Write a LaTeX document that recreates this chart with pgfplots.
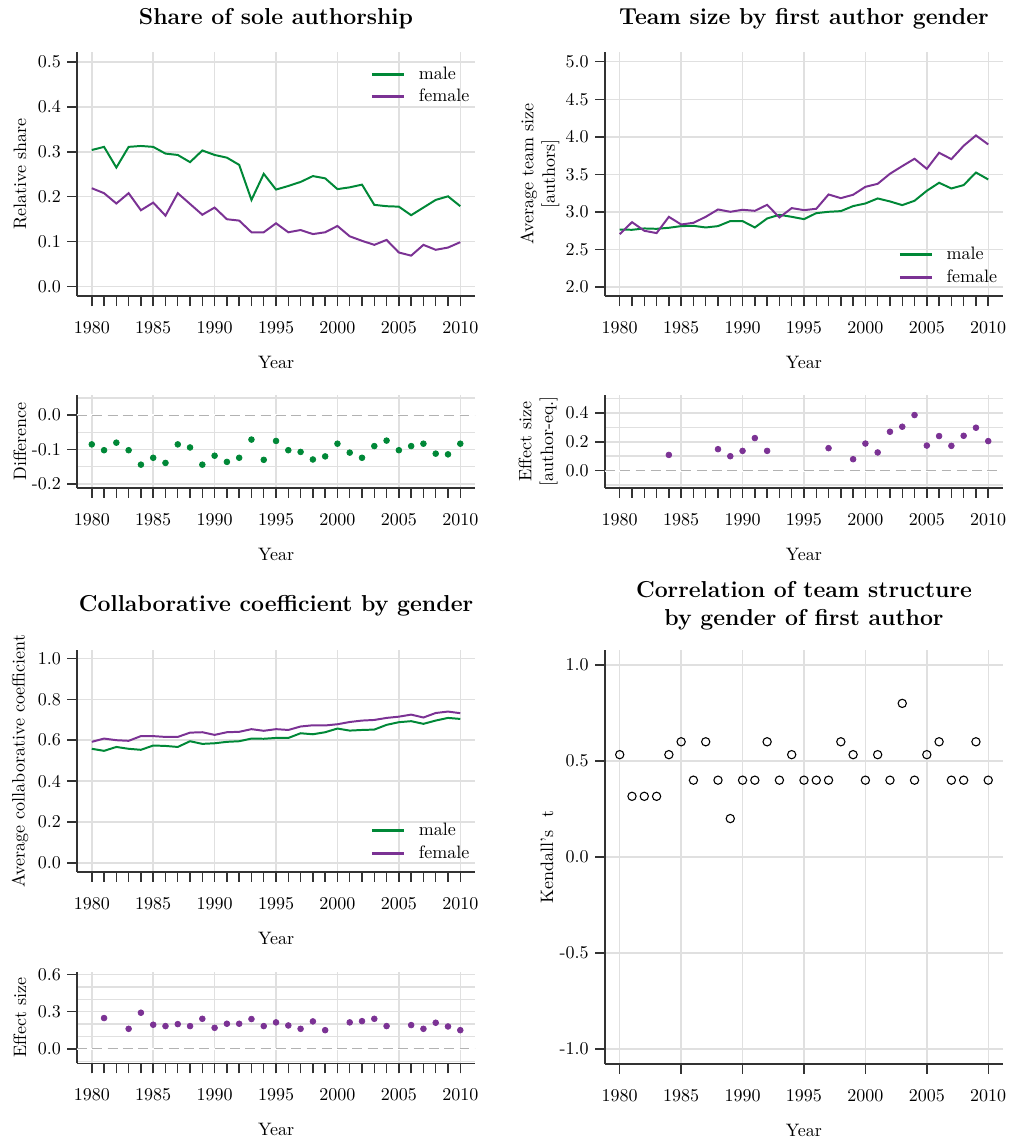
\documentclass[border=0pt]{standalone}
\usepackage{pgfplots}
\usepackage{pgfplotstable}
\pgfplotsset{compat=1.18}

\definecolor{male}{HTML}{008837}
\definecolor{female}{HTML}{7B3294}

% share of single-author papers
\pgfplotstableread{
year male female
1980 0.304 0.219
1981 0.311 0.208
1982 0.265 0.185
1983 0.311 0.208
1984 0.313 0.170
1985 0.311 0.187
1986 0.296 0.158
1987 0.293 0.208
1988 0.277 0.184
1989 0.303 0.160
1990 0.293 0.176
1991 0.287 0.150
1992 0.271 0.147
1993 0.193 0.121
1994 0.251 0.121
1995 0.216 0.141
1996 0.224 0.121
1997 0.233 0.126
1998 0.246 0.117
1999 0.241 0.121
2000 0.217 0.135
2001 0.221 0.112
2002 0.227 0.102
2003 0.182 0.093
2004 0.179 0.104
2005 0.178 0.076
2006 0.159 0.069
2007 0.176 0.093
2008 0.193 0.082
2009 0.201 0.087
2010 0.179 0.099
}\soleshare

% female minus male share
\pgfplotstableread{
year diff
1980 -0.085
1981 -0.102
1982 -0.080
1983 -0.102
1984 -0.144
1985 -0.124
1986 -0.139
1987 -0.085
1988 -0.094
1989 -0.144
1990 -0.118
1991 -0.136
1992 -0.124
1993 -0.071
1994 -0.130
1995 -0.075
1996 -0.102
1997 -0.107
1998 -0.129
1999 -0.120
2000 -0.083
2001 -0.109
2002 -0.124
2003 -0.090
2004 -0.074
2005 -0.102
2006 -0.090
2007 -0.083
2008 -0.112
2009 -0.114
2010 -0.083
}\solediff

% average team size
\pgfplotstableread{
year male female
1980 2.764 2.702
1981 2.760 2.862
1982 2.778 2.747
1983 2.773 2.716
1984 2.787 2.933
1985 2.809 2.831
1986 2.813 2.853
1987 2.791 2.933
1988 2.809 3.031
1989 2.876 3.000
1990 2.876 3.027
1991 2.791 3.013
1992 2.911 3.093
1993 2.960 2.924
1994 2.933 3.049
1995 2.902 3.022
1996 2.982 3.040
1997 3.000 3.231
1998 3.009 3.182
1999 3.076 3.227
2000 3.111 3.333
2001 3.178 3.373
2002 3.138 3.507
2003 3.089 3.609
2004 3.147 3.707
2005 3.280 3.573
2006 3.387 3.787
2007 3.311 3.702
2008 3.356 3.880
2009 3.524 4.018
2010 3.431 3.898
}\teamsize

% effect size of team size (significant years only)
\pgfplotstableread{
year eff
1984 0.109
1988 0.149
1989 0.100
1990 0.137
1991 0.226
1992 0.137
1997 0.156
1999 0.079
2000 0.188
2001 0.126
2002 0.270
2003 0.305
2004 0.386
2005 0.174
2006 0.240
2007 0.172
2008 0.242
2009 0.298
2010 0.205
}\teameff

% average collaborative coefficient
\pgfplotstableread{
year male female
1980 0.558 0.592
1981 0.548 0.608
1982 0.567 0.600
1983 0.558 0.597
1984 0.553 0.620
1985 0.574 0.620
1986 0.572 0.616
1987 0.567 0.616
1988 0.595 0.637
1989 0.582 0.639
1990 0.585 0.626
1991 0.592 0.639
1992 0.595 0.641
1993 0.608 0.654
1994 0.607 0.646
1995 0.611 0.654
1996 0.611 0.650
1997 0.634 0.667
1998 0.629 0.673
1999 0.639 0.672
2000 0.657 0.678
2001 0.647 0.689
2002 0.650 0.696
2003 0.652 0.699
2004 0.675 0.709
2005 0.688 0.715
2006 0.693 0.725
2007 0.680 0.711
2008 0.696 0.733
2009 0.709 0.740
2010 0.704 0.732
}\collab

% effect size of collaborative coefficient
\pgfplotstableread{
year eff
1981 0.249
1983 0.162
1984 0.292
1985 0.195
1986 0.184
1987 0.200
1988 0.184
1989 0.243
1990 0.170
1991 0.203
1992 0.203
1993 0.241
1994 0.184
1995 0.214
1996 0.189
1997 0.162
1998 0.222
1999 0.151
2001 0.214
2002 0.224
2003 0.243
2004 0.184
2006 0.192
2007 0.162
2008 0.211
2009 0.181
2010 0.151
}\collabeff

% Kendall's tau of team structure
\pgfplotstableread{
year tau
1980 0.533
1981 0.316
1982 0.316
1983 0.316
1984 0.533
1985 0.600
1986 0.400
1987 0.600
1988 0.400
1989 0.200
1990 0.400
1991 0.400
1992 0.600
1993 0.400
1994 0.533
1995 0.400
1996 0.400
1997 0.400
1998 0.600
1999 0.533
2000 0.400
2001 0.533
2002 0.400
2003 0.800
2004 0.400
2005 0.533
2006 0.600
2007 0.400
2008 0.400
2009 0.600
2010 0.400
}\kendall

\pgfplotsset{
  panel/.style={
    scale only axis, width=221.1pt,
    axis x line*=bottom, axis y line*=left,
    axis line style={black!80, line width=0.8pt},
    tick align=outside, major tick length=5.5pt, minor tick length=0pt,
    tick style={black!80, line width=0.8pt},
    xmin=1978.8, xmax=2011.2,
    xtick={1980,1985,...,2010},
    xticklabels={1980,1985,1990,1995,2000,2005,2010},
    xmajorgrids=true, ymajorgrids=true,
    major grid style={black!12, line width=0.8pt},
    minor grid style={black!12, line width=0.8pt},
    xticklabel style={yshift=-5pt},
    xlabel={Year},
    xlabel style={at={(axis description cs:0.5,0)}, anchor=center, yshift=-36.7pt},
    title style={font=\fontsize{12.8}{15.3}\selectfont\bfseries, at={(axis description cs:0.5,1)}, anchor=center, align=center, yshift=12.5pt},
    legend style={draw=none, fill=none, font=\normalsize, legend cell align=left},
    legend image code/.code={\draw[#1, line width=1.6pt] (0pt,0pt) -- (18pt,0pt); \path[draw=none] (0pt,0pt) -- (24pt,0pt);},
  },
  yearly/.style={extra x ticks={1980,...,2010}, extra x tick labels={}, extra x tick style={grid=none}},
  minorgrid/.style={minor ytick={#1}, yminorgrids=true},
  leftlab/.style={ylabel style={at={(axis description cs:#1,0.5)}, anchor=center, align=center}},
  trend/.style={line width=1.1pt},
  dot/.style={only marks, mark=*, mark size=1.6pt},
}

\begin{document}
\begin{tikzpicture}
\useasboundingbox (0pt,0pt) rectangle (564.44pt,-634.44pt);

% share of sole authorship
\begin{axis}[panel, yearly, at={(42.8pt,-28.9pt)}, anchor=north west,
  height=135.6pt, ymin=-0.021, ymax=0.522,
  ytick={0,0.1,...,0.5}, yticklabels={0.0,0.1,0.2,0.3,0.4,0.5},
  title={Share of sole authorship}, ylabel={Relative share}, leftlab=-0.1434,
  legend style={at={(1,1)}, anchor=north east, yshift=-4pt, xshift=2pt}]
\addplot[trend, male] table[x=year, y=male] {\soleshare};
\addlegendentry{male}
\addplot[trend, female] table[x=year, y=female] {\soleshare};
\addlegendentry{female}
\end{axis}

% difference of shares
\begin{axis}[panel, yearly, at={(42.8pt,-219.4pt)}, anchor=north west,
  height=51.7pt, ymin=-0.212, ymax=0.059,
  ytick={-0.2,-0.1,0}, yticklabels={-0.2,-0.1,0.0}, minorgrid={-0.15,-0.05,0.05},
  ylabel={Difference}, leftlab=-0.1434]
\addplot[white, line width=1.2pt] coordinates {(1978.8,0) (2011.2,0)};
\addplot[black!30, line width=0.6pt, dash pattern=on 5.5pt off 3pt] coordinates {(1978.8,0) (2011.2,0)};
\addplot[dot, male] table[x=year, y=diff] {\solediff};
\end{axis}

% team size
\begin{axis}[panel, yearly, at={(336.1pt,-28.9pt)}, anchor=north west,
  height=135.6pt, ymin=1.876, ymax=5.13,
  ytick={2,2.5,...,5}, yticklabels={2.0,2.5,3.0,3.5,4.0,4.5,5.0},
  title={Team size by first author gender}, ylabel={Average team size\\\mbox{[authors]}}, leftlab=-0.1633,
  legend style={at={(1,0)}, anchor=south east, yshift=2pt, xshift=2pt}]
\addplot[trend, male] table[x=year, y=male] {\teamsize};
\addlegendentry{male}
\addplot[trend, female] table[x=year, y=female] {\teamsize};
\addlegendentry{female}
\end{axis}

% team size effect
\begin{axis}[panel, yearly, at={(336.1pt,-219.4pt)}, anchor=north west,
  height=51.7pt, ymin=-0.121, ymax=0.526,
  ytick={0,0.2,0.4}, yticklabels={0.0,0.2,0.4}, minorgrid={-0.1,0.1,0.3,0.5},
  ylabel={Effect size\\\mbox{[author-eq.]}}, leftlab=-0.168]
\addplot[white, line width=1.2pt] coordinates {(1978.8,0) (2011.2,0)};
\addplot[black!30, line width=0.6pt, dash pattern=on 5.5pt off 3pt] coordinates {(1978.8,0) (2011.2,0)};
\addplot[dot, female] table[x=year, y=eff] {\teameff};
\end{axis}

% collaborative coefficient
\begin{axis}[panel, yearly, at={(42.8pt,-361.1pt)}, anchor=north west,
  height=123.3pt, ymin=-0.044, ymax=1.041,
  ytick={0,0.2,...,1}, yticklabels={0.0,0.2,0.4,0.6,0.8,1.0},
  title={Collaborative coefficient by gender}, title style={yshift=6.1pt},
  ylabel={Average collaborative coefficient}, leftlab=-0.1434,
  legend style={at={(1,0)}, anchor=south east, yshift=2pt, xshift=2pt}]
\addplot[trend, male] table[x=year, y=male] {\collab};
\addlegendentry{male}
\addplot[trend, female] table[x=year, y=female] {\collab};
\addlegendentry{female}
\end{axis}

% collaborative coefficient effect
\begin{axis}[panel, yearly, at={(42.8pt,-539.8pt)}, anchor=north west,
  height=51pt, ymin=-0.118, ymax=0.624,
  ytick={0,0.3,0.6}, yticklabels={0.0,0.3,0.6}, minorgrid={-0.1,0.1,0.2,0.4,0.5},
  ylabel={Effect size}, leftlab=-0.1434]
\addplot[white, line width=1.2pt] coordinates {(1978.8,0) (2011.2,0)};
\addplot[black!30, line width=0.6pt, dash pattern=on 5.5pt off 3pt] coordinates {(1978.8,0) (2011.2,0)};
\addplot[dot, female] table[x=year, y=eff] {\collabeff};
\end{axis}

% Kendall correlation
\begin{axis}[panel, at={(336.1pt,-361.1pt)}, anchor=north west,
  height=230pt, ymin=-1.078, ymax=1.078,
  ytick={-1,-0.5,0,0.5,1}, yticklabels={-1.0,-0.5,0.0,0.5,1.0},
  title={Correlation of team structure\\by gender of first author}, title style={yshift=6.1pt},
  ylabel={Kendall's\ \ t}, leftlab=-0.1457]
\addplot[only marks, mark=o, mark size=2.3pt, mark options={black, line width=0.6pt}] table[x=year, y=tau] {\kendall};
\end{axis}
\end{tikzpicture}
\end{document}
